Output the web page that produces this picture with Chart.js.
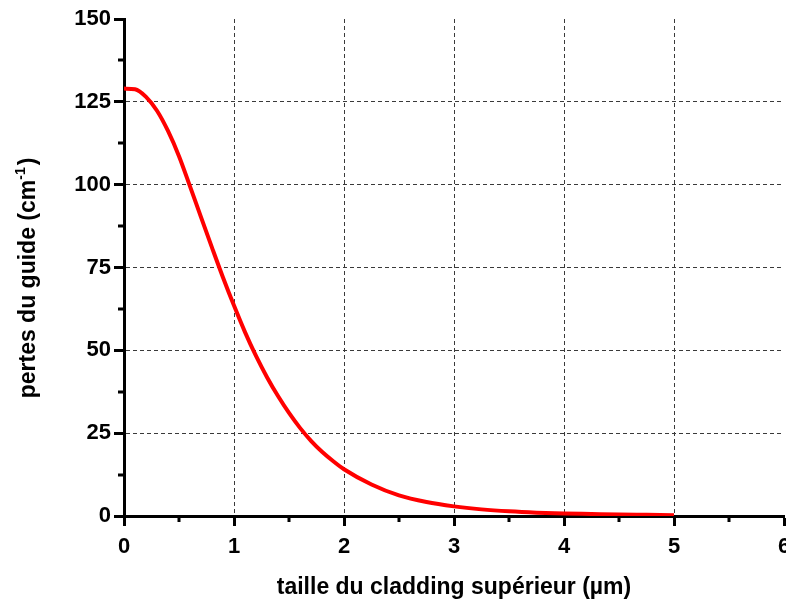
<!DOCTYPE html>
<html>
<head>
<meta charset="utf-8">
<script src="https://cdn.jsdelivr.net/npm/chart.js@4"></script>
<style>
  html, body { margin: 0; padding: 0; background: #fff; }
  #wrap { width: 786px; height: 600px; }
</style>
</head>
<body>
<div id="wrap"><canvas id="lossChart" width="786" height="600"></canvas></div>
<script>
// cladding thickness (µm) and guide losses (cm-1)
const claddingThickness = [0, 0.1, 0.2, 0.3, 0.4, 0.5, 0.6, 0.7, 0.8, 0.9, 1.0,
    1.1, 1.2, 1.3, 1.4, 1.5, 1.6, 1.7, 1.8, 1.9, 2.0,
    2.25, 2.5, 2.75, 3.0, 3.25, 3.5, 3.75, 4.0, 4.25, 4.5, 4.75, 5.0];
const guideLosses = [129, 128.8, 126.5, 122.3, 116.2, 108.6, 99.5, 90.2, 81, 72, 63.5,
    55.5, 48.3, 41.9, 36.2, 31.1, 26.6, 22.7, 19.4, 16.6, 14.1,
    9.5, 6.2, 4.2, 2.9, 2.0, 1.4, 1.0, 0.75, 0.6, 0.45, 0.35, 0.25];

const xTicks = [0, 1, 2, 3, 4, 5, 6];
const yTicks = [0, 25, 50, 75, 100, 125, 150];
const xMinorTicks = [0.5, 1.5, 2.5, 3.5, 4.5, 5.5];
const yMinorTicks = [12.5, 37.5, 62.5, 87.5, 112.5, 137.5];

const points = claddingThickness.map((x, i) => ({ x: x, y: guideLosses[i] }));

const fontFamily = '"Liberation Sans", Arial, sans-serif';
const tickFont = { family: fontFamily, size: 22, weight: 'bold' };
const gridColor = (edgeValues) => (ctx) =>
    edgeValues.includes(ctx.tick.value) ? 'rgba(0,0,0,0)' : '#3a3a3a';

// small unlabeled ticks between the major ones
const minorTicks = {
    id: 'minorTicks',
    afterDraw(chart) {
        const c = chart.ctx;
        const xs = chart.scales.x, ys = chart.scales.y;
        const area = chart.chartArea;
        c.save();
        c.strokeStyle = '#000';
        c.lineWidth = 3;
        c.beginPath();
        xMinorTicks.forEach(v => {
            const px = Math.round(xs.getPixelForValue(v));
            c.moveTo(px, area.bottom);
            c.lineTo(px, area.bottom + 6);
        });
        yMinorTicks.forEach(v => {
            const py = Math.round(ys.getPixelForValue(v));
            c.moveTo(area.left, py);
            c.lineTo(area.left - 6, py);
        });
        c.stroke();
        c.restore();
    }
};

// y title with a real superscript
const yTitle = {
    id: 'yTitle',
    afterDraw(chart) {
        const c = chart.ctx;
        c.save();
        c.translate(35, 279);
        c.rotate(-Math.PI / 2);
        c.fillStyle = '#000';
        c.textBaseline = 'alphabetic';
        const main = 'pertes du guide (cm';
        const sup = '-1';
        const end = ')';
        c.font = 'bold 23px ' + fontFamily;
        const wMain = c.measureText(main).width;
        const wEnd = c.measureText(end).width;
        c.font = 'bold 14px ' + fontFamily;
        const wSup = c.measureText(sup).width;
        let x = -(wMain + wSup + wEnd) / 2;
        c.font = 'bold 23px ' + fontFamily;
        c.fillText(main, x, 0);
        x += wMain;
        c.font = 'bold 14px ' + fontFamily;
        c.fillText(sup, x, -10);
        x += wSup + 2;
        c.font = 'bold 23px ' + fontFamily;
        c.fillText(end, x, 0);
        c.restore();
    }
};

const lossChart = new Chart(document.getElementById('lossChart').getContext('2d'), {
    type: 'line',
    data: {
        datasets: [{
            label: 'pertes',
            data: points,
            borderColor: '#ff0000',
            borderWidth: 4,
            pointRadius: 0,
            cubicInterpolationMode: 'monotone',
            fill: false
        }]
    },
    options: {
        responsive: false,
        animation: false,
        layout: { padding: { top: 19, right: 2, left: 0, bottom: 0 }, autoPadding: false },
        plugins: {
            legend: { display: false },
            tooltip: { enabled: false }
        },
        scales: {
            x: {
                type: 'linear',
                min: 0,
                max: 6,
                afterBuildTicks: (scale) => { scale.ticks = xTicks.map(v => ({ value: v })); },
                afterFit: (scale) => { scale.height = 84; scale.paddingLeft = 0; scale.paddingRight = 0; },
                ticks: { color: '#000', font: tickFont, padding: 8, maxRotation: 0, autoSkip: false },
                grid: {
                    color: gridColor([0, 6]),
                    lineWidth: 1,
                    tickColor: '#000',
                    tickLength: 10,
                    tickWidth: 3
                },
                border: { display: true, color: '#000', width: 3, dash: [4, 3] },
                title: {
                    display: true,
                    text: 'taille du cladding supérieur (µm)',
                    color: '#000',
                    font: { family: fontFamily, size: 23, weight: 'bold', lineHeight: 1 },
                    padding: { top: 0, bottom: 1 }
                }
            },
            y: {
                min: 0,
                max: 150,
                afterBuildTicks: (scale) => { scale.ticks = yTicks.map(v => ({ value: v })); },
                afterFit: (scale) => { scale.width = 124; },
                ticks: { color: '#000', font: tickFont, padding: 3 },
                grid: {
                    color: gridColor([0, 150]),
                    lineWidth: 1,
                    tickColor: '#000',
                    tickLength: 10,
                    tickWidth: 3
                },
                border: { display: true, color: '#000', width: 3, dash: [4, 3] }
            }
        }
    },
    plugins: [minorTicks, yTitle]
});
</script>
</body>
</html>
